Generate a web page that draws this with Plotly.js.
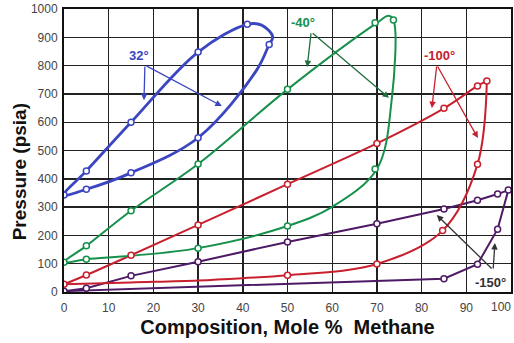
<!DOCTYPE html>
<html>
<head>
<meta charset="utf-8">
<script src="https://cdn.plot.ly/plotly-3.0.1.min.js"></script>
<style>
html,body{margin:0;padding:0;background:#fff;}
#chart{width:514px;height:343px;}
</style>
</head>
<body>
<div id="chart"></div>
<script>
// ---- Data ----
// 32 deg F loop
var t32CurveX = [0, 5, 15, 30, 41, 44.2, 46.7, 45.9, 43.1, 30, 15, 5, 0];
var t32CurveY = [343, 428, 600, 848, 946, 943, 902, 875, 784, 545, 421, 363, 343];
var t32PtsX = [0, 5, 15, 30, 41, 45.9, 30, 15, 5];
var t32PtsY = [343, 428, 600, 848, 946, 875, 545, 421, 363];

// -40 deg F loop
var tm40CurveX = [0, 5, 15, 30, 50, 70, 72.6, 73.7, 73.3, 70, 60, 50, 30, 15, 5, 0];
var tm40CurveY = [105, 163, 287, 452, 716, 951, 976, 961, 678, 435, 301, 233, 155, 128, 116, 105];
var tm40PtsX = [0, 5, 15, 30, 50, 69.6, 73.7, 69.6, 50, 30, 5];
var tm40PtsY = [105, 163, 287, 452, 716, 951, 961, 435, 233, 155, 116];

// -100 deg F loop (upper and lower branches)
var tm100UpX = [0, 5, 15, 30, 50, 70, 85, 92.5, 94.6];
var tm100UpY = [27, 60, 130, 237, 381, 525, 649, 728, 746];
var tm100LowX = [94.6, 92.5, 84.7, 70, 50, 40, 30, 15, 0];
var tm100LowY = [746, 451, 217, 99, 59, 49, 41, 34, 27];
var tm100PtsX = [0, 5, 15, 30, 50, 70, 85, 92.5, 94.6, 92.5, 84.7, 70, 50];
var tm100PtsY = [27, 60, 130, 237, 381, 525, 649, 728, 746, 451, 217, 99, 59];

// -150 deg F loop
var tm150X = [0, 5, 15, 30, 50, 70, 85, 92.5, 97, 99.4, 97, 92.5, 85, 60, 30, 0];
var tm150Y = [3, 13, 57, 107, 177, 241, 293, 324, 346, 360, 222, 98, 47, 34, 17, 3];
var tm150PtsX = [0, 5, 15, 30, 50, 70, 85, 92.5, 97, 99.4, 97, 92.5, 85];
var tm150PtsY = [3, 13, 57, 107, 177, 241, 293, 324, 346, 360, 222, 98, 47];

// x tick labels
var xTickVals = [0, 10, 20, 30, 40, 50, 60, 70, 80, 90, 100];
var xTickText = ['0', '10', '20', '30', '40', '50', '60', '70', '80', '90', '100'];

var labels = ['32°', '-40°', '-100°', '-150°'];
var colors = ['#3c46c0', '#16904a', '#c8202e', '#4e1a66'];

function curve(x, y, c, w, shape) {
  return {x: x, y: y, type: 'scatter', mode: 'lines',
    line: {color: c, width: w, shape: shape, smoothing: 1}, hoverinfo: 'skip', showlegend: false};
}
function pts(x, y, c) {
  return {x: x, y: y, type: 'scatter', mode: 'markers',
    marker: {symbol: 'circle', size: 6, color: '#fff', line: {color: c, width: 1.5}},
    showlegend: false};
}

var traces = [
  curve(tm150X, tm150Y, colors[3], 2, 'linear'),
  curve(tm100UpX, tm100UpY, colors[2], 2, 'spline'),
  curve(tm100LowX, tm100LowY, colors[2], 2, 'spline'),
  curve(tm40CurveX, tm40CurveY, colors[1], 2, 'spline'),
  curve(t32CurveX, t32CurveY, colors[0], 2.8, 'spline'),
  pts(tm150PtsX, tm150PtsY, colors[3]),
  pts(tm100PtsX, tm100PtsY, colors[2]),
  pts(tm40PtsX, tm40PtsY, colors[1]),
  pts(t32PtsX, t32PtsY, colors[0])
];

function arrow(x, y, ax, ay, c) {
  return {x: x, y: y, ax: ax, ay: ay, xref: 'x', yref: 'y', axref: 'x', ayref: 'y',
    text: '', showarrow: true, arrowhead: 2, arrowsize: 1, arrowwidth: 1.3, arrowcolor: c};
}
function lab(x, y, t, c) {
  return {x: x, y: y, xref: 'x', yref: 'y', text: '<b>' + t + '</b>', showarrow: false,
    font: {family: 'Liberation Sans, Arial, sans-serif', size: 13, color: c}};
}
var arrowCols = ['#3c46c0', '#1f6e3e', '#c8202e', '#333333'];
var nT = xTickVals.length - 1;
var annotations = [
  lab(16.8, 834, labels[0], colors[0]),
  arrow(17.9, 678, 18.1, 802, arrowCols[0]),
  arrow(35.3, 657, 18.1, 802, arrowCols[0]),
  lab(53.5, 951, labels[1], colors[1]),
  arrow(54.4, 795, 55.3, 919, arrowCols[1]),
  arrow(72.7, 686, 55.3, 919, arrowCols[1]),
  lab(83.9, 837, labels[2], colors[2]),
  arrow(82.3, 650, 83.4, 802, arrowCols[2]),
  arrow(92.6, 544, 83.4, 802, arrowCols[2]),
  lab(95.5, 32, labels[3], '#333333'),
  arrow(83.4, 272, 96.0, 78, arrowCols[3]),
  arrow(96.4, 173, 96.0, 78, arrowCols[3]),
  {xref: 'paper', yref: 'paper', x: -0.1, y: 0.424, textangle: -90, showarrow: false,
   text: '<b>Pressure (psia)</b>', xanchor: 'center', yanchor: 'middle',
   font: {family: 'Liberation Sans, Arial, sans-serif', size: 19, color: '#111'}},
  // last x tick label, right-anchored so it stays inside the page
  {xref: 'x', yref: 'paper', x: xTickVals[nT], y: 0, yshift: -6, xshift: 2,
   xanchor: 'right', yanchor: 'top', showarrow: false, text: xTickText[nT],
   font: {family: 'Liberation Sans, Arial, sans-serif', size: 12, color: '#444'}}
];

var layout = {
  width: 514, height: 343,
  margin: {l: 64, r: 3, t: 9, b: 51},
  paper_bgcolor: '#ffffff', plot_bgcolor: '#ffffff',
  font: {family: 'Liberation Sans, Arial, sans-serif', color: '#333'},
  showlegend: false,
  xaxis: {
    range: [0, 100], tickmode: 'array',
    tickvals: xTickVals.slice(0, nT), ticktext: xTickText.slice(0, nT),
    showgrid: true, gridcolor: '#222', gridwidth: 1.4,
    showline: true, linecolor: '#111', linewidth: 2, mirror: true,
    zeroline: false, ticks: '', tickfont: {size: 12, color: '#444'},
    ticklabelstandoff: 4,
    title: {text: '<b>Composition, Mole %  Methane</b>', font: {size: 20, color: '#111'}, standoff: 6}
  },
  yaxis: {
    range: [0, 1000], dtick: 100, tick0: 0,
    showgrid: true, gridcolor: '#222', gridwidth: 1.4,
    showline: true, linecolor: '#111', linewidth: 2, mirror: true,
    zeroline: false, ticks: '', tickfont: {size: 12, color: '#444'},
    ticklabelstandoff: 2
  },
  annotations: annotations
};

Plotly.newPlot('chart', traces, layout, {displayModeBar: false, staticPlot: true});
</script>
</body>
</html>
